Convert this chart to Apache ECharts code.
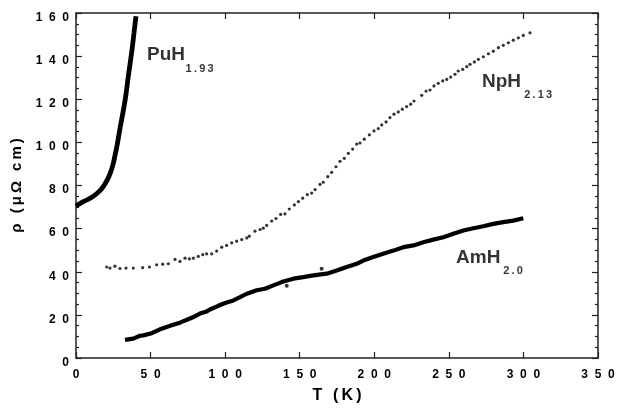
<!DOCTYPE html>
<html>
<head>
<meta charset="utf-8">
<script src="https://cdn.jsdelivr.net/npm/echarts@6/dist/echarts.min.js"></script>
<style>html,body{margin:0;padding:0;background:#fff}#c{width:618px;height:409px}</style>
</head>
<body>
<div id="c"></div>
<script>
// ---- data ----
const xTicks = [0, 50, 100, 150, 200, 250, 300, 350];
const yTicks = [0, 20, 40, 60, 80, 100, 120, 140, 160];

const T_PuH = [0, 4.9, 10.5, 16.1, 19.4, 22.3, 24.6, 26.1, 27.7, 29.5, 32.9, 35.1, 37.3, 38.9, 40.2];
const rho_PuH = [70.5, 72.5, 74.5, 77.6, 80.7, 84.5, 89.2, 93.8, 99.2, 106.5, 119.5, 130.8, 141.6, 150.8, 158.5];

const T_NpH = [20.6, 22.8, 26.1, 29.5, 33.5, 38.4, 44.7, 49.2, 54.1, 58.1, 61.9, 66.4, 69.7, 73.1, 76.0, 78.7, 82.0, 85.0, 87.6, 91.0, 94.3, 97.7, 101.0, 104.4, 107.7, 111.1, 114.5, 116.2, 120.0, 123.4, 125.6, 127.9, 131.2, 134.1, 137.2, 140.1, 143.0, 146.4, 149.1, 152.0, 155.1, 158.0, 160.3, 163.6, 165.8, 168.8, 171.4, 174.3, 177.0, 179.9, 182.6, 185.5, 188.2, 190.4, 193.3, 196.7, 199.8, 202.7, 205.0, 207.9, 210.5, 213.2, 216.1, 218.8, 221.7, 224.4, 226.6, 231.8, 234.7, 237.4, 240.0, 242.9, 245.9, 248.6, 251.2, 254.1, 256.3, 259.3, 262.0, 264.2, 267.1, 269.8, 273.1, 276.5, 279.8, 283.2, 286.5, 289.9, 293.2, 296.6, 299.9, 304.4];
const rho_NpH = [42.2, 41.7, 42.6, 41.5, 41.7, 41.7, 41.9, 42.2, 43.2, 43.5, 43.7, 45.7, 44.8, 46.3, 46.0, 46.3, 47.1, 47.9, 48.3, 48.3, 49.6, 51.4, 52.2, 53.4, 54.2, 54.9, 55.7, 56.5, 58.8, 59.6, 60.2, 61.5, 63.5, 64.7, 66.6, 66.8, 69.1, 71.0, 72.5, 74.1, 75.8, 76.5, 78.1, 80.5, 81.5, 84.1, 86.1, 88.7, 91.2, 92.6, 94.9, 96.9, 99.2, 99.7, 101.5, 103.5, 105.3, 106.4, 108.1, 109.5, 111.5, 113.1, 114.1, 115.4, 116.6, 117.7, 119.2, 121.8, 123.8, 124.3, 126.2, 127.4, 128.5, 129.2, 130.3, 131.6, 133.1, 133.9, 135.1, 136.2, 137.3, 138.5, 139.7, 141.1, 142.3, 143.9, 145.0, 146.2, 147.4, 148.5, 149.6, 150.8];

const T_AmH = [32.9, 38.4, 42.9, 45.1, 50.8, 56.3, 60.8, 63.0, 69.7, 76.4, 78.7, 83.1, 87.6, 89.8, 95.4, 100.0, 105.5, 110.0, 114.5, 121.2, 126.7, 132.3, 137.9, 139.0, 145.7, 152.4, 159.1, 168.1, 174.8, 181.5, 188.2, 192.6, 199.3, 206.0, 212.8, 219.5, 226.2, 232.9, 239.6, 246.3, 253.0, 259.7, 266.4, 273.1, 279.8, 286.5, 293.2, 299.9];
const rho_AmH = [8.4, 9.0, 10.3, 10.5, 11.5, 13.3, 14.4, 14.9, 16.4, 18.3, 19.0, 20.6, 21.6, 22.5, 24.2, 25.5, 26.7, 28.2, 29.8, 31.4, 32.1, 33.7, 35.2, 35.7, 36.8, 37.5, 38.3, 39.1, 40.6, 42.2, 43.7, 45.2, 46.8, 48.3, 49.8, 51.4, 52.2, 53.7, 54.9, 56.0, 57.6, 59.1, 60.2, 61.1, 62.2, 63.0, 63.7, 64.8];
const T_AmH_stray = [141.3, 164.7];
const rho_AmH_stray = [33.5, 41.4];

// annotation texts, anchored in data coordinates
const notes = [
  { text: 'PuH',  at: [47.6, 140.6], size: 19 },
  { text: '1.93', at: [73.5, 134.0], size: 11 },
  { text: 'NpH',  at: [272.2, 127.9], size: 19 },
  { text: '2.13', at: [300.5, 122.0], size: 11 },
  { text: 'AmH',  at: [254.8, 46.7], size: 19 },
  { text: '2.0',  at: [286.5, 40.5], size: 11 }
];

const FONT = 'Liberation Sans, Arial, sans-serif';
const spaced = (s, sep) => String(s).split('').join(sep);
const zip = (a, b) => a.map((v, i) => [v, b[i]]);

const axisLineStyle = { color: '#222', width: 1.5 };
const tickStyle = { color: '#222', width: 1.2 };

const chart = echarts.init(document.getElementById('c'), null, { renderer: 'canvas' });

chart.setOption({
  animation: false,
  backgroundColor: '#fff',
  grid: { left: 76, right: 20, top: 13, bottom: 50 },
  xAxis: [
    {
      type: 'value', min: xTicks[0], max: xTicks[xTicks.length - 1], interval: 50, position: 'bottom',
      axisLine: { show: true, onZero: false, lineStyle: axisLineStyle },
      axisTick: { show: true, inside: true, length: 6, lineStyle: tickStyle },
      splitLine: { show: false },
      axisLabel: {
        margin: 11, color: '#000', fontFamily: FONT, fontWeight: 'bold', fontSize: 12,
        formatter: v => spaced(v, '\u2007')
      },
      name: spaced('T (K)', '\u2009'), nameLocation: 'middle', nameGap: 30,
      nameTextStyle: { color: '#000', fontFamily: FONT, fontWeight: 'bold', fontSize: 16 }
    },
    {
      type: 'value', min: xTicks[0], max: xTicks[xTicks.length - 1], interval: 50, position: 'top',
      axisLine: { show: true, onZero: false, lineStyle: axisLineStyle },
      axisTick: { show: true, inside: true, length: 6, lineStyle: tickStyle },
      axisLabel: { show: false }, splitLine: { show: false }
    }
  ],
  yAxis: [
    {
      type: 'value', min: yTicks[0], max: yTicks[yTicks.length - 1], interval: 20, position: 'left',
      axisLine: { show: true, onZero: false, lineStyle: axisLineStyle },
      axisTick: { show: true, inside: true, length: 6, lineStyle: tickStyle },
      minorTick: { show: true, splitNumber: 4, length: 3, lineStyle: tickStyle },
      splitLine: { show: false },
      axisLabel: {
        margin: 7, color: '#000', fontFamily: FONT, fontWeight: 'bold', fontSize: 12,
        verticalAlign: 'top', lineHeight: 9,
        formatter: v => spaced(v, '\u2007')
      },
      name: spaced('ρ (μΩ cm)', '\u2009'), nameLocation: 'middle', nameGap: 45,
      nameTextStyle: { color: '#000', fontFamily: FONT, fontWeight: 'bold', fontSize: 15 }
    },
    {
      type: 'value', min: yTicks[0], max: yTicks[yTicks.length - 1], interval: 20, position: 'right',
      axisLine: { show: true, onZero: false, lineStyle: axisLineStyle },
      axisTick: { show: true, inside: true, length: 6, lineStyle: tickStyle },
      minorTick: { show: true, splitNumber: 4, length: 3, lineStyle: tickStyle },
      axisLabel: { show: false }, splitLine: { show: false }
    }
  ],
  series: [
    {
      name: 'PuH1.93', type: 'line', data: zip(T_PuH, rho_PuH), smooth: true,
      showSymbol: false, lineStyle: { color: '#000', width: 4.8 }, clip: true
    },
    {
      name: 'NpH2.13', type: 'scatter', data: zip(T_NpH, rho_NpH),
      symbol: 'circle', symbolSize: 3.2, itemStyle: { color: '#000' }
    },
    {
      name: 'AmH2.0', type: 'line', data: zip(T_AmH, rho_AmH),
      showSymbol: false, lineStyle: { color: '#000', width: 4.2 }
    },
    {
      name: 'AmH2.0 stray', type: 'scatter', data: zip(T_AmH_stray, rho_AmH_stray),
      symbolSize: 4, itemStyle: { color: '#000' }
    },
    {
      name: 'notes', type: 'scatter', symbolSize: 0, silent: true,
      data: notes.map(n => ({
        value: n.at,
        label: {
          show: true, position: 'right', distance: 0,
          formatter: n.size < 14 ? spaced(n.text, '\u2009') : n.text,
          color: '#000', fontFamily: FONT, fontWeight: 'bold', fontSize: n.size
        }
      }))
    }
  ]
});
</script>
</body>
</html>
